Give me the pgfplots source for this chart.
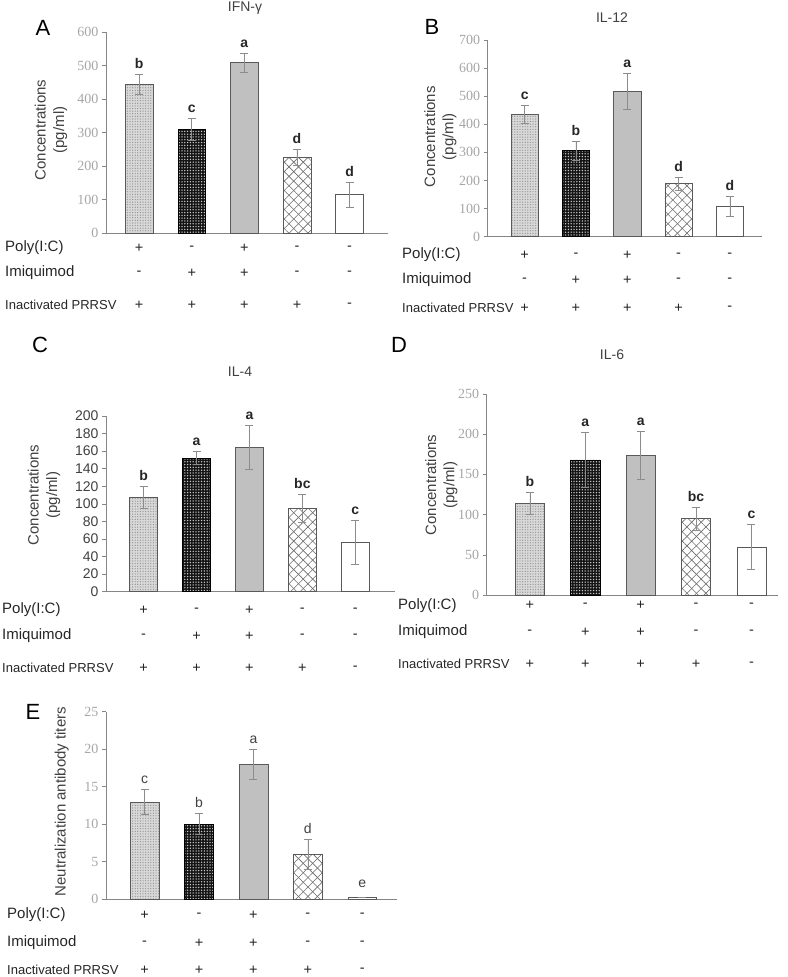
\documentclass[border=0pt]{standalone}
\usepackage{fontspec}
\setmainfont{Liberation Sans}
\newfontfamily\serifticks{Liberation Serif}
\usepackage{pgfplots}
\pgfplotsset{compat=1.18}
\usetikzlibrary{patterns,patterns.meta}

\definecolor{axgray}{HTML}{868686}
\definecolor{tickgray}{HTML}{A6A6A6}
\definecolor{bordergray}{HTML}{595959}
\definecolor{errgray}{HTML}{8C8C8C}
\definecolor{barthree}{HTML}{C0C0C0}
\definecolor{txt}{HTML}{262626}
\definecolor{labtxt}{HTML}{404040}

\pgfplotsset{
  panel/.style={
    scale only axis,
    anchor=south west,
    axis lines*=left,
    axis line style={axgray, line width=0.7pt},
    ymin=0,
    xtick=\empty,
    tick align=outside,
    ytick style={axgray, line width=0.6pt},
    major tick length=4pt,
    /pgf/number format/assume math mode=true,
    yticklabel style={font=\serifticks\fontsize{14}{14}\selectfont, text=tickgray},
    clip=false,
  },
  bb/.style={ybar, bar width=0.53, bar shift=0pt, line width=0.5pt,
    error bars/y dir=both, error bars/y explicit,
    error bars/error bar style={errgray, line width=0.6pt},
    error bars/error mark options={rotate=90, errgray, mark size=4pt, line width=0.6pt}},
  b1/.style={bb, draw=bordergray, fill=gray!30, postaction={pattern={Dots[distance=2.6pt,radius=0.7pt]}, pattern color=gray!80}},
  b2/.style={bb, draw=black, fill=black!92, postaction={pattern={Dots[distance=2.8pt,radius=0.75pt]}, pattern color=white!80!black}},
  b3/.style={bb, draw=bordergray, fill=barthree},
  b4/.style={bb, draw=bordergray, fill=white, postaction={pattern={Lines[angle=45,distance=6.7pt,line width=0.6pt]}, pattern color=gray!85!black}, postaction={pattern={Lines[angle=-45,distance=6.7pt,line width=0.6pt]}, pattern color=gray!85!black}},
  b5/.style={bb, draw=bordergray, fill=white},
}
\tikzset{
  sg/.style={font=\fontsize{14.5}{14.5}\selectfont, text=txt, inner sep=0pt},
  rl/.style={font=\fontsize{15}{15}\selectfont, text=txt, anchor=west, inner sep=0pt},
  rlp/.style={font=\fontsize{13}{13}\selectfont, text=txt, anchor=west, inner sep=0pt},
  sig/.style={font=\bfseries\fontsize{14}{14}\selectfont, text=txt, anchor=base, inner sep=0pt, yshift=6pt},
  sigE/.style={font=\fontsize{14}{14}\selectfont, text=labtxt, anchor=base, inner sep=0pt, yshift=6pt},
  ttl/.style={font=\fontsize{14}{14}\selectfont, text=labtxt},
  pl/.style={font=\fontsize{22}{22}\selectfont, text=black},
  yl/.style={font=\fontsize{15}{18.3}\selectfont, text=labtxt, rotate=90, align=center},
}

\newcommand{\signs}[3]{%
  \node[sg, yshift=#1] at (axis cs:0,0) {+};
  \node[sg, yshift=#1] at (axis cs:1,0) {-};
  \node[sg, yshift=#1] at (axis cs:2,0) {+};
  \node[sg, yshift=#1] at (axis cs:3,0) {-};
  \node[sg, yshift=#1] at (axis cs:4,0) {-};
  \node[sg, yshift=#2] at (axis cs:0,0) {-};
  \node[sg, yshift=#2] at (axis cs:1,0) {+};
  \node[sg, yshift=#2] at (axis cs:2,0) {+};
  \node[sg, yshift=#2] at (axis cs:3,0) {-};
  \node[sg, yshift=#2] at (axis cs:4,0) {-};
  \node[sg, yshift=#3] at (axis cs:0,0) {+};
  \node[sg, yshift=#3] at (axis cs:1,0) {+};
  \node[sg, yshift=#3] at (axis cs:2,0) {+};
  \node[sg, yshift=#3] at (axis cs:3,0) {+};
  \node[sg, yshift=#3] at (axis cs:4,0) {-};
}
\newcommand{\rowlabels}[4]{%
  \node[rl] at (#1pt,-#2pt) {Poly(I:C)};
  \node[rl] at (#1pt,-#3pt) {Imiquimod};
  \node[rlp] at (#1pt,-#4pt) {Inactivated PRRSV};
}

\begin{document}
\begin{tikzpicture}
\path[use as bounding box] (0,0) rectangle (787pt,-977pt);

% ---------------- Panel A ----------------
\begin{axis}[panel, at={(106pt,-233pt)}, width=282pt, height=200.7pt,
  xmin=-0.63, xmax=4.73, ymax=600, ytick={0,100,...,600}]
\addplot[b1] coordinates {(0,445) +- (0,30)};
\addplot[b2] coordinates {(1,310) +- (0,32)};
\addplot[b3] coordinates {(2,509) +- (0,28)};
\addplot[b4] coordinates {(3,226) +- (0,23)};
\addplot[b5] coordinates {(4,115) +- (0,37)};
\node[sig] at (axis cs:0,475) {b};
\node[sig] at (axis cs:1,342) {c};
\node[sig] at (axis cs:2,537) {a};
\node[sig] at (axis cs:3,249) {d};
\node[sig] at (axis cs:4,152) {d};
\signs{-15pt}{-40pt}{-72pt}
\end{axis}
\node[pl] at (43pt,-28pt) {A};
\node[ttl] at (245pt,-8pt) {IFN-γ};
\node[yl] at (51pt,-130pt) {Concentrations\\(pg/ml)};
\rowlabels{5}{248}{273}{305}

% ---------------- Panel B ----------------
\begin{axis}[panel, at={(487.7pt,-236.7pt)}, width=274pt, height=196.7pt,
  xmin=-0.72, xmax=4.62, ymax=700, ytick={0,100,...,700}]
\addplot[b1] coordinates {(0,435) +- (0,31)};
\addplot[b2] coordinates {(1,306) +- (0,34)};
\addplot[b3] coordinates {(2,516) +- (0,64)};
\addplot[b4] coordinates {(3,189) +- (0,23)};
\addplot[b5] coordinates {(4,108) +- (0,36)};
\node[sig] at (axis cs:0,466) {c};
\node[sig] at (axis cs:1,340) {b};
\node[sig] at (axis cs:2,580) {a};
\node[sig] at (axis cs:3,212) {d};
\node[sig] at (axis cs:4,144) {d};
\signs{-18.3pt}{-43.3pt}{-71.3pt}
\end{axis}
\node[pl] at (432pt,-27pt) {B};
\node[ttl] at (612pt,-18pt) {IL-12};
\node[yl] at (440.4pt,-136.7pt) {Concentrations\\(pg/ml)};
\rowlabels{402}{255}{280}{308}

% ---------------- Panel C ----------------
\begin{axis}[panel, at={(106pt,-591.7pt)}, width=289pt, height=175.7pt,
  xmin=-0.71, xmax=4.75, ymax=200, ytick={0,20,...,200},
  yticklabel style={font=\fontsize{14}{14}\selectfont, text=labtxt}]
\addplot[b1] coordinates {(0,107) +- (0,12.5)};
\addplot[b2] coordinates {(1,152) +- (0,7.5)};
\addplot[b3] coordinates {(2,164) +- (0,25)};
\addplot[b4] coordinates {(3,95) +- (0,15.5)};
\addplot[b5] coordinates {(4,56) +- (0,25)};
\node[sig] at (axis cs:0,119.5) {b};
\node[sig] at (axis cs:1,159.5) {a};
\node[sig] at (axis cs:2,189) {a};
\node[sig] at (axis cs:3,110.5) {bc};
\node[sig] at (axis cs:4,81) {c};
\signs{-18.3pt}{-44.3pt}{-76.3pt}
\end{axis}
\node[pl] at (40pt,-345pt) {C};
\node[ttl] at (240pt,-372pt) {IL-4};
\node[yl] at (44pt,-495pt) {Concentrations\\(pg/ml)};
\rowlabels{2}{610}{636}{668}

% ---------------- Panel D ----------------
\begin{axis}[panel, at={(486.7pt,-595pt)}, width=291.3pt, height=201pt,
  xmin=-0.78, xmax=4.48, ymax=250, ytick={0,50,...,250}]
\addplot[b1] coordinates {(0,114) +- (0,13.5)};
\addplot[b2] coordinates {(1,168) +- (0,34)};
\addplot[b3] coordinates {(2,174) +- (0,29.5)};
\addplot[b4] coordinates {(3,95) +- (0,14)};
\addplot[b5] coordinates {(4,60) +- (0,28)};
\node[sig] at (axis cs:0,127.5) {b};
\node[sig] at (axis cs:1,202) {a};
\node[sig] at (axis cs:2,203.5) {a};
\node[sig] at (axis cs:3,109) {bc};
\node[sig] at (axis cs:4,88) {c};
\signs{-10.7pt}{-37pt}{-69pt}
\end{axis}
\node[pl] at (399pt,-345pt) {D};
\node[ttl] at (612pt,-355pt) {IL-6};
\node[yl] at (441.3pt,-485pt) {Concentrations\\(pg/ml)};
\rowlabels{398}{606}{632}{664}

% ---------------- Panel E ----------------
\begin{axis}[panel, at={(106pt,-899.3pt)}, width=291pt, height=187.6pt,
  xmin=-0.71, xmax=4.64, ymax=25, ytick={0,5,...,25}]
\addplot[b1] coordinates {(0,13) +- (0,1.7)};
\addplot[b2] coordinates {(1,10) +- (0,1.4)};
\addplot[b3] coordinates {(2,18) +- (0,2)};
\addplot[b4] coordinates {(3,6) +- (0,2)};
\addplot[b5] coordinates {(4,0.25) +- (0,0)};
\node[sigE] at (axis cs:0,14.7) {c};
\node[sigE] at (axis cs:1,11.4) {b};
\node[sigE] at (axis cs:2,20) {a};
\node[sigE] at (axis cs:3,8) {d};
\node[sigE] at (axis cs:4,0.8) {e};
\signs{-15.7pt}{-43.7pt}{-70.7pt}
\end{axis}
\node[pl] at (33pt,-712pt) {E};
\node[yl] at (61.7pt,-801.7pt) {Neutralization antibody titers};
\rowlabels{7}{915}{943}{970}

\end{tikzpicture}
\end{document}
